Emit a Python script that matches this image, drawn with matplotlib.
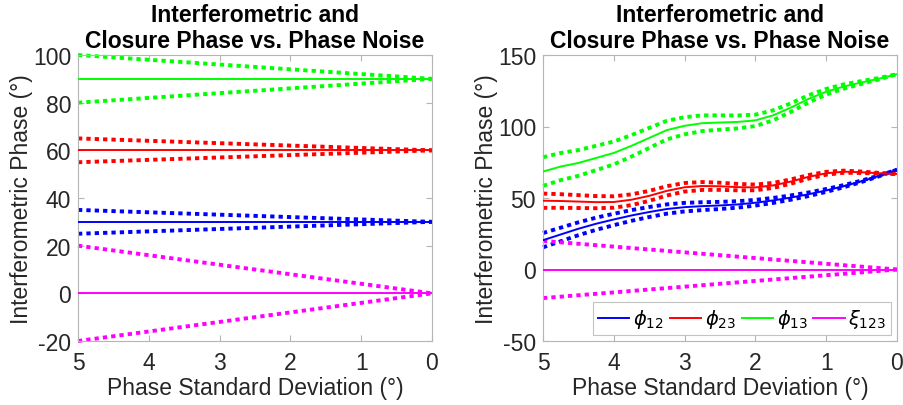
import matplotlib.pyplot as plt

plt.rcParams['font.family'] = ['Liberation Sans', 'DejaVu Sans']
plt.rcParams['mathtext.fontset'] = 'dejavusans'
plt.rcParams['axes.unicode_minus'] = False

# ---- left panel: constant phases, noise band shrinking with sigma ----
sigma_left = [5, 0]
phi12_left = [30, 30]
phi23_left = [60, 60]
phi13_left = [90, 90]
xi123_left = [0, 0]
phi12_left_hw = [5, 0]
phi23_left_hw = [5, 0]
phi13_left_hw = [10, 0]
xi123_left_hw = [20, 0]

# ---- right panel: varying phases ----
sigma_right = [5, 4.75, 4.5, 4.25, 4, 3.75, 3.5, 3.25, 3, 2.75, 2.5,
               2.25, 2, 1.75, 1.5, 1.25, 1, 0.75, 0.5, 0.25, 0]
phi12_right = [20.5, 24.5, 28.5, 32, 35, 37.8, 40.2, 42.3, 43.6, 44.3, 44.8,
               45.5, 46.7, 48.3, 50.3, 52.6, 55.3, 58.3, 61.7, 65.5, 69.8]
phi23_right = [48.1, 47.9, 47.5, 47.1, 47.2, 48.8, 51.5, 55, 57.5, 58.4, 58.2,
               57.6, 57.4, 58.8, 61.5, 64.8, 67.3, 68.4, 68, 67.3, 66.8]
phi13_right = [68.5, 72, 74.5, 78, 81.5, 86.5, 92, 97.5, 100.5, 102.3, 102.8,
               103.2, 104.3, 107.8, 113.2, 119.3, 124.3, 128, 130.8, 133.5, 136.6]
xi123_right = [0] * 21
phi12_right_hw = [5, 4.75, 4.5, 4.25, 4, 3.75, 3.5, 3.25, 3, 2.75, 2.5,
                  2.25, 2, 1.75, 1.5, 1.25, 1, 0.75, 0.5, 0.25, 0]
phi23_right_hw = [5, 4.75, 4.5, 4.25, 4, 3.75, 3.5, 3.25, 3, 2.75, 2.5,
                  2.25, 2, 1.75, 1.5, 1.25, 1, 0.75, 0.5, 0.25, 0]
phi13_right_hw = [10, 9.5, 9, 8.5, 8, 7.5, 7, 6.5, 6, 5.5, 5,
                  4.5, 4, 3.5, 3, 2.5, 2, 1.5, 1, 0.5, 0]
xi123_right_hw = [20, 19, 18, 17, 16, 15, 14, 13, 12, 11, 10,
                  9, 8, 7, 6, 5, 4, 3, 2, 1, 0]

labels = [r'$\phi_{12}$', r'$\phi_{23}$', r'$\phi_{13}$', r'$\xi_{123}$']
colors = ['#0000ff', '#ff0000', '#00ff00', '#ff00ff']
spine_color = '#b5b5b5'
text_color = '#262626'


def draw_panel(ax, sigma, centers, halfwidths, yticks):
    for center, hw, color, label in zip(centers, halfwidths, colors, labels):
        upper = [c + h for c, h in zip(center, hw)]
        lower = [c - h for c, h in zip(center, hw)]
        ax.plot(sigma, center, color=color, lw=1.4, label=label, zorder=3)
        for band in (upper, lower):
            ax.plot(sigma, band, color=color, lw=2.8, linestyle=(0, (1.1, 1.05)),
                    dash_capstyle='butt', clip_on=False, zorder=2)
    ax.set_xlim(5, 0)
    ax.set_ylim(yticks[0], yticks[-1])
    ax.set_xticks([5, 4, 3, 2, 1, 0])
    ax.set_yticks(yticks)
    ax.tick_params(direction='in', top=True, right=True, length=4,
                   color=spine_color, labelsize=16.5, labelcolor=text_color)
    ax.tick_params(axis='x', pad=7)
    ax.tick_params(axis='y', pad=5)
    for s in ax.spines.values():
        s.set_color(spine_color)
        s.set_linewidth(0.8)
    ax.set_xlabel('Phase Standard Deviation (°)', fontsize=16.5, color=text_color, labelpad=2)
    ax.set_ylabel('Interferometric Phase (°)', fontsize=16.5, color=text_color, labelpad=0)
    ax.set_title('Interferometric and\nClosure Phase vs. Phase Noise',
                 fontsize=16.5, fontweight='bold', linespacing=1.15, pad=6)


fig = plt.figure(figsize=(9.04, 4.06), dpi=100)
ax1 = fig.add_axes([78 / 904, 64 / 406, 354 / 904, 286 / 406])
ax2 = fig.add_axes([543 / 904, 64 / 406, 354 / 904, 286 / 406])

draw_panel(ax1, sigma_left,
           [phi12_left, phi23_left, phi13_left, xi123_left],
           [phi12_left_hw, phi23_left_hw, phi13_left_hw, xi123_left_hw],
           [-20, 0, 20, 40, 60, 80, 100])
draw_panel(ax2, sigma_right,
           [phi12_right, phi23_right, phi13_right, xi123_right],
           [phi12_right_hw, phi23_right_hw, phi13_right_hw, xi123_right_hw],
           [-50, 0, 50, 100, 150])

leg = ax2.legend(loc='lower right', ncol=4, fontsize=14, frameon=True, fancybox=False,
                 handlelength=1.6, handletextpad=0.2, columnspacing=0.3,
                 borderpad=0.25, borderaxespad=0.3)
leg.get_frame().set_edgecolor(spine_color)
leg.get_frame().set_linewidth(0.8)

fig.savefig('out.png', dpi=100)
